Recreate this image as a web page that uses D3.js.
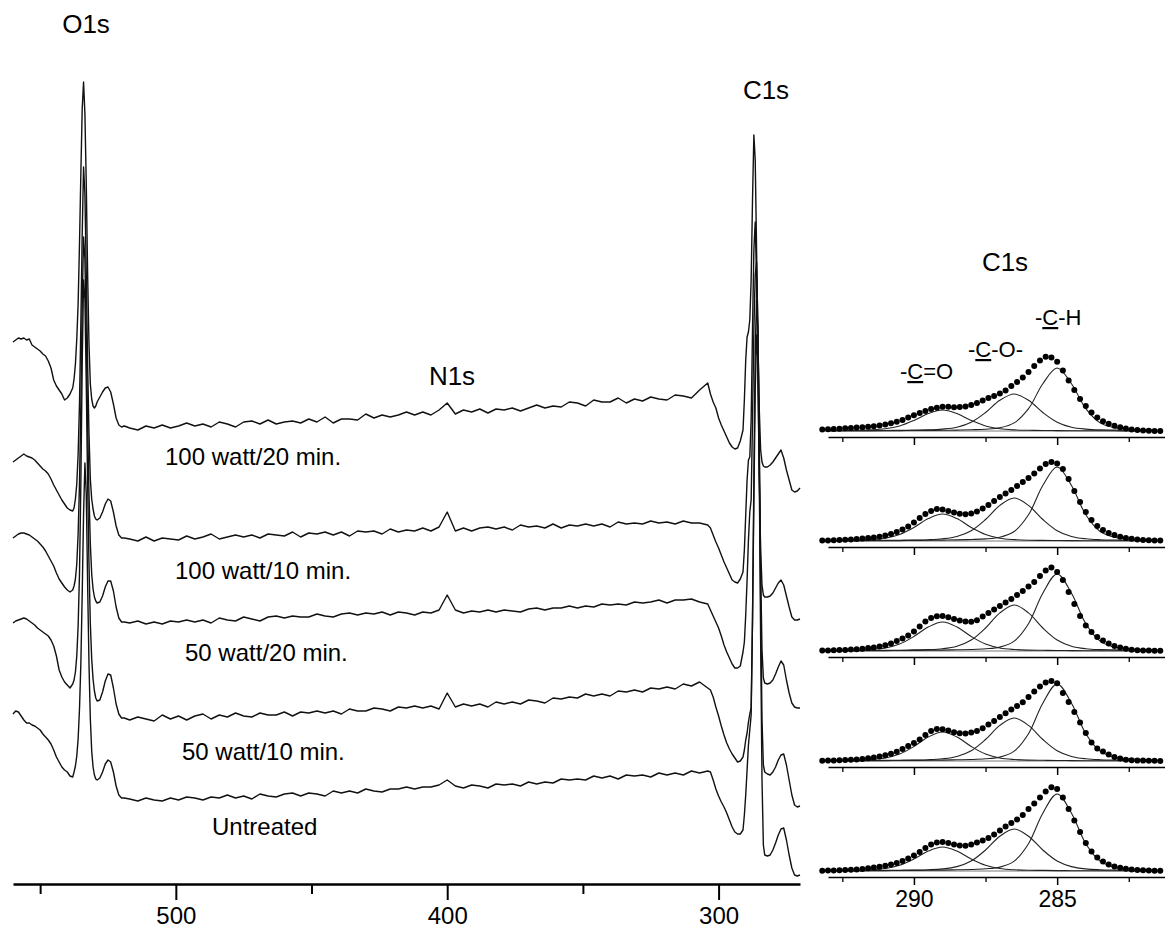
<!DOCTYPE html>
<html><head><meta charset="utf-8">
<script src="https://cdn.jsdelivr.net/npm/d3@7"></script>
<style>
body{margin:0;background:#fff}
svg{display:block;background:#fff}
text{font-family:"Liberation Sans",Arial,Helvetica,sans-serif;fill:#000}
</style>
</head><body>
<svg id="c" width="1165" height="934"></svg>
<script>
// ---------------- DATA ----------------
const surveyEV = [
560,559,558,557,556,555,554,553,552,551,550,549,548,547,546,545,544,543,542,541,540,539,538,
537.5,537,536.5,536,535.5,535,534.5,534,533.5,533,532.5,532,531.5,531,530.5,530,529.5,529,
528,527,526,525,524,523,522,521,520,519,
517,514,511,508,505,502,499,496,493,490,487,484,481,478,475,472,469,466,463,460,457,454,451,448,445,442,439,436,433,430,427,424,421,418,415,412,409,406,403,400,397,394,391,388,385,382,379,376,373,370,367,364,361,358,355,352,349,346,343,340,337,334,331,328,325,322,319,316,313,310,307,304,
303,302,301,300,299,298,297,296,295,294,293,292,291,
290.5,290,289.5,289,288.5,288,287.5,287,286.5,286,285.5,285,284.5,284,283.5,283,
282,281,280,279,278,277,276,275,274,273,272,271,270];

const sampleNames = ["100 watt/20 min.","100 watt/10 min.","50 watt/20 min.","50 watt/10 min.","Untreated"];

const survey100w20 = [
542,544,546,545,546,544,545,539,537,535,533,530,528,523,516,504,498,494,490,484,486,490,496,
505,520,545,580,640,710,775,802,770,700,610,540,500,485,478,476,478,482,
487,492,496,497,492,480,466,459,457,458,
456,454,458,456,459,456,458,461,458,460,457,462,460,457,462,463,460,464,460,462,463,461,465,462,467,461,465,465,464,470,466,469,467,469,472,469,472,469,474,481,470,474,472,475,471,475,474,476,473,476,479,476,478,477,482,481,478,484,482,482,486,481,485,483,487,485,484,489,488,486,494,501,
490,482,476,466,459,453,447,441,437,435,436,443,454,
484,524,547,552,564,604,684,749,724,634,544,474,434,422,418,417,
417,419,422,426,430,434,426,414,404,394,392,393,396];

const survey100w10 = [
422,424,426,428,430,428,427,426,424,421,418,415,413,410,405,399,394,389,384,380,376,374,373,
376,385,400,430,480,560,650,717,690,610,520,450,405,385,375,368,365,364,
366,372,380,385,383,372,358,349,346,346,
345,343,347,343,346,345,344,348,345,347,350,345,347,349,347,349,346,350,349,348,352,347,351,350,352,349,352,348,353,352,353,350,355,352,354,353,356,353,357,372,353,356,353,356,357,355,357,354,359,357,358,356,360,356,359,358,360,358,360,357,362,360,361,360,363,361,362,360,363,361,361,359,
356,349,342,336,329,322,316,310,304,302,301,305,312,
334,369,404,424,427,464,554,634,662,604,504,404,334,299,289,287,
287,288,291,296,301,304,299,288,277,267,264,264,265];

const survey50w20 = [
346,348,350,351,351,350,349,347,345,343,340,337,333,328,323,318,311,305,301,297,294,292,294,
298,305,320,350,400,480,580,647,625,550,460,390,340,310,295,287,283,281,
282,288,297,303,303,293,277,266,262,262,
261,263,260,262,260,263,262,264,262,264,261,266,264,263,267,265,263,267,268,266,268,267,267,270,268,267,270,271,269,271,270,272,269,272,271,269,272,271,274,289,274,271,273,272,274,272,274,273,272,275,276,274,276,276,278,276,278,277,280,279,280,279,282,281,282,284,281,284,284,285,282,280,
274,268,262,256,248,239,232,226,220,216,216,218,232,
242,269,304,344,372,384,464,554,609,622,554,434,314,234,206,201,
200,201,204,210,217,223,219,204,191,181,177,176,176];

const survey50w10 = [
261,263,264,265,266,265,263,261,259,256,254,252,250,248,244,238,228,214,207,202,199,196,200,
204,212,228,258,310,400,520,604,585,500,400,320,260,225,205,193,186,183,
184,192,203,210,209,196,180,170,166,166,
164,167,165,163,169,165,168,164,168,170,165,169,167,171,168,167,171,169,169,172,168,172,171,173,171,173,170,175,173,173,176,175,173,177,176,178,176,178,175,191,177,180,178,180,177,182,180,182,180,184,183,181,186,185,187,186,190,188,190,188,193,192,194,192,196,195,197,195,200,198,202,196,
194,187,177,168,158,149,141,135,130,126,122,123,127,
134,144,151,162,170,176,264,404,534,584,554,434,284,164,119,112,
110,109,112,117,124,129,130,119,104,89,79,77,78];

const surveyUntreated = [
170,173,172,168,164,161,161,159,158,156,154,150,147,144,140,134,127,122,117,114,112,108,107,
112,118,128,145,175,220,290,370,421,390,300,220,165,133,117,109,105,104,
106,112,120,124,122,112,98,89,86,86,
85,83,86,84,83,86,84,87,86,84,87,86,89,86,88,85,90,88,87,90,91,88,91,90,88,93,91,93,91,95,93,92,95,95,97,95,97,97,99,104,98,96,99,98,96,100,99,100,98,102,100,102,101,105,104,105,104,108,106,108,105,109,108,109,107,111,109,111,109,113,111,113,
112,104,95,88,82,77,71,64,57,52,50,50,54,
69,89,114,139,154,169,264,384,494,549,524,404,244,104,39,29,
28,29,34,41,49,55,56,44,29,16,9,8,9];

const surveyPeakNames = ["O1s","N1s","C1s"];
const surveyTicks = [500,400,300];
const surveyMinorTicks = [550,450,350];

const hrEV = [293.2,293.0,292.8,292.6,292.4,292.2,292.0,291.8,291.6,291.4,
291.2,291.0,290.8,290.6,290.4,290.2,290.0,289.8,289.6,289.4,
289.2,289.0,288.8,288.6,288.4,288.2,288.0,287.8,287.6,287.4,
287.2,287.0,286.8,286.6,286.4,286.2,286.0,285.8,285.6,285.4,
285.2,285.0,284.8,284.6,284.4,284.2,284.0,283.8,283.6,283.4,
283.2,283.0,282.8,282.6,282.4,282.2,282.0,281.8,281.6,281.4];

const hr100w20 = [1.5,1.7,2.0,2.3,2.7,3.0,3.4,3.8,4.3,4.8,5.5,6.5,7.8,9.3,11,13.5,15.8,18,20,22,
23.3,24.2,24.2,23.8,24,24.6,26,28,30.5,33,35,37.5,40.5,45,49,53.5,59,65,70.5,74.3,
73.5,69.3,60.5,50.5,41,32,25,18.5,13.5,9.8,7.3,5.3,3.8,2.6,1.6,1.0,0.6,0.3,0.1,0];
const hr100w10 = [0.5,0.6,0.8,0.9,1.2,1.5,1.9,2.4,2.9,3.5,4.3,5.5,7.0,8.9,11.5,14.5,18.5,23,27,30,
32,31.5,30,28.5,27.2,26.8,27.4,29.5,32.5,36,40,44,47.5,51,55,59,63,67.5,72.5,77,
79,77.5,72,62,50,39,29,21,15,11,8,6,4.2,3.0,2.2,1.5,1.0,0.8,0.6,0.5];
const hr50w20 = [0.5,0.6,0.7,0.9,1.1,1.4,1.8,2.3,2.9,3.6,4.6,5.8,7.5,10,12.5,15.5,19.5,24.5,29.5,33,
34.8,35,33.8,32,30.5,29.6,29.2,30.8,34.5,38,41.5,45,48.5,52,56,60,64.5,69,75,80.5,
83.5,79,71,59,47,35,25.5,19,14,10.5,7.5,5,3.5,2.3,1.2,0.8,0.5,0.4,0.3,0.2];
const hr50w10 = [0.3,0.4,0.5,0.7,0.9,1.2,1.6,2.1,2.8,3.6,4.6,5.8,7.3,9.3,12,15,18,21.5,26,30,
32,31.8,30.5,28.8,27.7,27.6,28.5,30,32.8,36.5,40,44,47.8,51.5,55,58.8,64,69.5,74.5,78.5,
80,77.7,68,59,49,38.5,28,18.5,12.5,9.5,6.5,4,2.5,1.3,0.8,0.5,0.4,0.3,0.2,0.1];
const hrUntreated = [0.3,0.4,0.5,0.7,0.9,1.2,1.6,2.1,2.8,3.5,4.3,5.3,6.5,8,10,12.5,15.5,19,23,26.5,
28.5,29,28,26.5,25.5,25.3,26.5,28.5,30.5,33,36.5,40.5,44.5,48,51.5,56,62,67.5,73.5,79.5,
83.7,82,73.5,62,50.5,39,28,19.5,13.5,9.5,6.5,4.5,3.2,2.2,1.5,1.0,0.7,0.5,0.3,0.2];

const compEV = [293,292.5,292,291.5,291,290.5,290,289.5,289,288.5,288,287.5,287,286.5,286,285.5,285,284.5,284,283.5,283,282.5,282,281.5];
const compNames = ["-C=O","-C-O-","-C-H"];

const cdo100w20 = [0.4,0.5,0.7,1.1,2.2,5.0,10.5,17.4,21,17.4,10.5,5.0,2.2,1.1,0.7,0.5,0.4,0.3,0.2,0.2,0.2,0.1,0.1,0.1];
const co100w20  = [0.3,0.3,0.4,0.4,0.5,0.7,0.9,1.1,1.9,3.8,8.8,18.5,30.7,37,30.7,18.5,8.8,3.8,1.9,1.1,0.9,0.7,0.5,0.4];
const ch100w20  = [0.2,0.2,0.3,0.3,0.3,0.4,0.5,0.6,0.7,0.9,1.3,1.8,3.2,8.1,22.3,47.3,63,47.3,22.3,8.1,3.2,1.8,1.3,0.9];

const cdo100w10 = [0.5,0.6,0.8,1.4,2.8,6.5,13.5,22.4,27,22.4,13.5,6.5,2.8,1.4,0.8,0.6,0.5,0.4,0.3,0.3,0.2,0.2,0.2,0.1];
const co100w10  = [0.3,0.3,0.4,0.5,0.6,0.8,1.0,1.3,2.2,4.5,10.3,21.5,35.6,43,35.6,21.5,10.3,4.5,2.2,1.3,1.0,0.8,0.6,0.5];
const ch100w10  = [0.2,0.2,0.3,0.3,0.4,0.4,0.6,0.7,0.9,1.1,1.5,2.1,3.8,9.5,26.2,55.5,74,55.5,26.2,9.5,3.8,2.1,1.5,1.1];

const cdo50w20 = [0.5,0.7,0.9,1.5,3.0,6.9,14.5,24.0,29,24.0,14.5,6.9,3.0,1.5,0.9,0.7,0.5,0.4,0.3,0.3,0.2,0.2,0.2,0.1];
const co50w20  = [0.3,0.4,0.4,0.5,0.6,0.8,1.1,1.4,2.3,4.8,11.0,23,38.1,46,38.1,23,11.0,4.8,2.3,1.4,1.1,0.8,0.6,0.5];
const ch50w20  = [0.2,0.2,0.3,0.3,0.4,0.5,0.6,0.7,0.9,1.2,1.5,2.2,3.9,9.9,27.3,57.8,77,57.8,27.3,9.9,3.9,2.2,1.5,1.2];

const cdo50w10 = [0.5,0.7,0.9,1.5,3.0,6.9,14.5,24.0,29,24.0,14.5,6.9,3.0,1.5,0.9,0.7,0.5,0.4,0.3,0.3,0.2,0.2,0.2,0.1];
const co50w10  = [0.3,0.3,0.4,0.5,0.6,0.8,1.0,1.3,2.2,4.5,10.3,21.5,35.6,43,35.6,21.5,10.3,4.5,2.2,1.3,1.0,0.8,0.6,0.5];
const ch50w10  = [0.2,0.2,0.3,0.3,0.4,0.5,0.6,0.7,0.9,1.2,1.5,2.2,3.9,9.9,27.3,57.8,77,57.8,27.3,9.9,3.9,2.2,1.5,1.2];

const cdoUntreated = [0.4,0.6,0.7,1.2,2.5,5.7,12,19.9,24,19.9,12,5.7,2.5,1.2,0.7,0.6,0.4,0.3,0.3,0.2,0.2,0.2,0.1,0.1];
const coUntreated  = [0.3,0.3,0.4,0.5,0.6,0.8,1.0,1.3,2.1,4.4,10.0,21,34.8,42,34.8,21,10.0,4.4,2.1,1.3,1.0,0.8,0.6,0.5];
const chUntreated  = [0.2,0.2,0.3,0.3,0.4,0.5,0.6,0.7,0.9,1.2,1.5,2.2,3.9,9.9,27.3,57.8,77,57.8,27.3,9.9,3.9,2.2,1.5,1.2];

const hrTicks = [290,285];
const hrMinorTicks = [292.5,287.5,282.5];
const hrTitle = "C1s";

// ---------------- DRAWING ----------------
const surveys = [survey100w20, survey100w10, survey50w20, survey50w10, surveyUntreated];
const hrData = [hr100w20, hr100w10, hr50w20, hr50w10, hrUntreated];
const comps = [
  [cdo100w20, co100w20, ch100w20],
  [cdo100w10, co100w10, ch100w10],
  [cdo50w20, co50w20, ch50w20],
  [cdo50w10, co50w10, ch50w10],
  [cdoUntreated, coUntreated, chUntreated]
];
surveys.forEach((s,i)=>{ if(s.length!==surveyEV.length) throw new Error("survey "+i+" length "+s.length); });
hrData.forEach((s,i)=>{ if(s.length!==hrEV.length) throw new Error("hr "+i+" length "+s.length); });
comps.forEach((c,i)=>c.forEach((s,j)=>{ if(s.length!==compEV.length) throw new Error("comp "+i+","+j+" length "+s.length); }));

const FONT = '"Liberation Sans",Arial,Helvetica,sans-serif';
const svg = d3.select("#c");

const xL = d3.scaleLinear().domain([560,270]).range([13,800]);
const yL = d3.scaleLinear().domain([0,800]).range([884,84]);
const line = d3.line().x((d,i)=>xL(surveyEV[i])).y(d=>yL(d));

const gS = svg.append("g");
surveys.forEach(s=>{
  gS.append("path").attr("d", line(s))
    .attr("fill","none").attr("stroke","#111").attr("stroke-width",1.4)
    .attr("stroke-linejoin","round");
});

const axL = svg.append("g").attr("transform","translate(0,884)")
  .call(d3.axisBottom(xL).tickValues(surveyTicks).tickSize(16).tickSizeOuter(0).tickPadding(7));
axL.select(".domain").attr("stroke","#000").attr("stroke-width",2.6);
axL.selectAll(".tick line").attr("stroke","#000").attr("stroke-width",2);
axL.selectAll(".tick text").attr("font-size",24).attr("font-family",FONT).attr("fill","#000");
const axLm = svg.append("g").attr("transform","translate(0,884)")
  .call(d3.axisBottom(xL).tickValues(surveyMinorTicks).tickSize(10).tickSizeOuter(0).tickFormat(()=>""));
axLm.select(".domain").remove();
axLm.selectAll(".tick line").attr("stroke","#000").attr("stroke-width",2);

const peakPos = [[86,33],[452,385],[766,99]];
surveyPeakNames.forEach((n,i)=>{
  svg.append("text").attr("x",peakPos[i][0]).attr("y",peakPos[i][1])
    .attr("text-anchor","middle").attr("font-size",26).text(n);
});
const labPos = [[165,465],[175,579],[185,661],[182,760],[212,835]];
sampleNames.forEach((n,i)=>{
  svg.append("text").attr("x",labPos[i][0]).attr("y",labPos[i][1])
    .attr("font-size",24).text(n);
});

const xR = d3.scaleLinear().domain([293,281.2]).range([828,1166]);
hrData.forEach((vals,i)=>{
  const axisY = 437 + 110*i;
  const baseY = axisY - 6;
  const yR = d3.scaleLinear().domain([0,100]).range([baseY, baseY-100]);
  const g = svg.append("g");
  g.append("line").attr("x1",xR(293.2)).attr("x2",xR(281.3))
    .attr("y1",yR(0)).attr("y2",yR(0)).attr("stroke","#555").attr("stroke-width",0.8);
  const cl = d3.line().x((d,k)=>xR(compEV[k])).y(d=>yR(d)).curve(d3.curveCatmullRom);
  comps[i].forEach(c=>{
    g.append("path").attr("d",cl(c)).attr("fill","none")
      .attr("stroke","#222").attr("stroke-width",1.1);
  });
  g.selectAll("circle").data(vals).join("circle")
    .attr("cx",(d,k)=>xR(hrEV[k])).attr("cy",d=>yR(d)).attr("r",3).attr("fill","#000");
  const ax = svg.append("g").attr("transform",`translate(0,${axisY})`)
    .call(d3.axisBottom(xR).tickValues(hrTicks).tickSize(8).tickSizeOuter(0).tickPadding(6)
      .tickFormat(i===4 ? d3.format("d") : ()=>""));
  ax.select(".domain").attr("stroke","#000").attr("stroke-width",1.6);
  ax.selectAll(".tick line").attr("stroke","#000").attr("stroke-width",1.5);
  ax.selectAll(".tick text").attr("font-size",23).attr("font-family",FONT).attr("fill","#000");
  const axm = svg.append("g").attr("transform",`translate(0,${axisY})`)
    .call(d3.axisBottom(xR).tickValues(hrMinorTicks).tickSize(5).tickSizeOuter(0).tickFormat(()=>""));
  axm.select(".domain").remove();
  axm.selectAll(".tick line").attr("stroke","#000").attr("stroke-width",1.3);
});

svg.append("text").attr("x",1005).attr("y",271).attr("text-anchor","middle")
  .attr("font-size",26).text(hrTitle);
const compLabPos = [[900,379],[968,357],[1035,325]];
compNames.forEach((n,i)=>{
  const t = svg.append("text").attr("x",compLabPos[i][0]).attr("y",compLabPos[i][1])
    .attr("font-size",22);
  t.append("tspan").text("-");
  t.append("tspan").style("text-decoration","underline").text("C");
  t.append("tspan").text(n.slice(2));
});
</script>
</body></html>
